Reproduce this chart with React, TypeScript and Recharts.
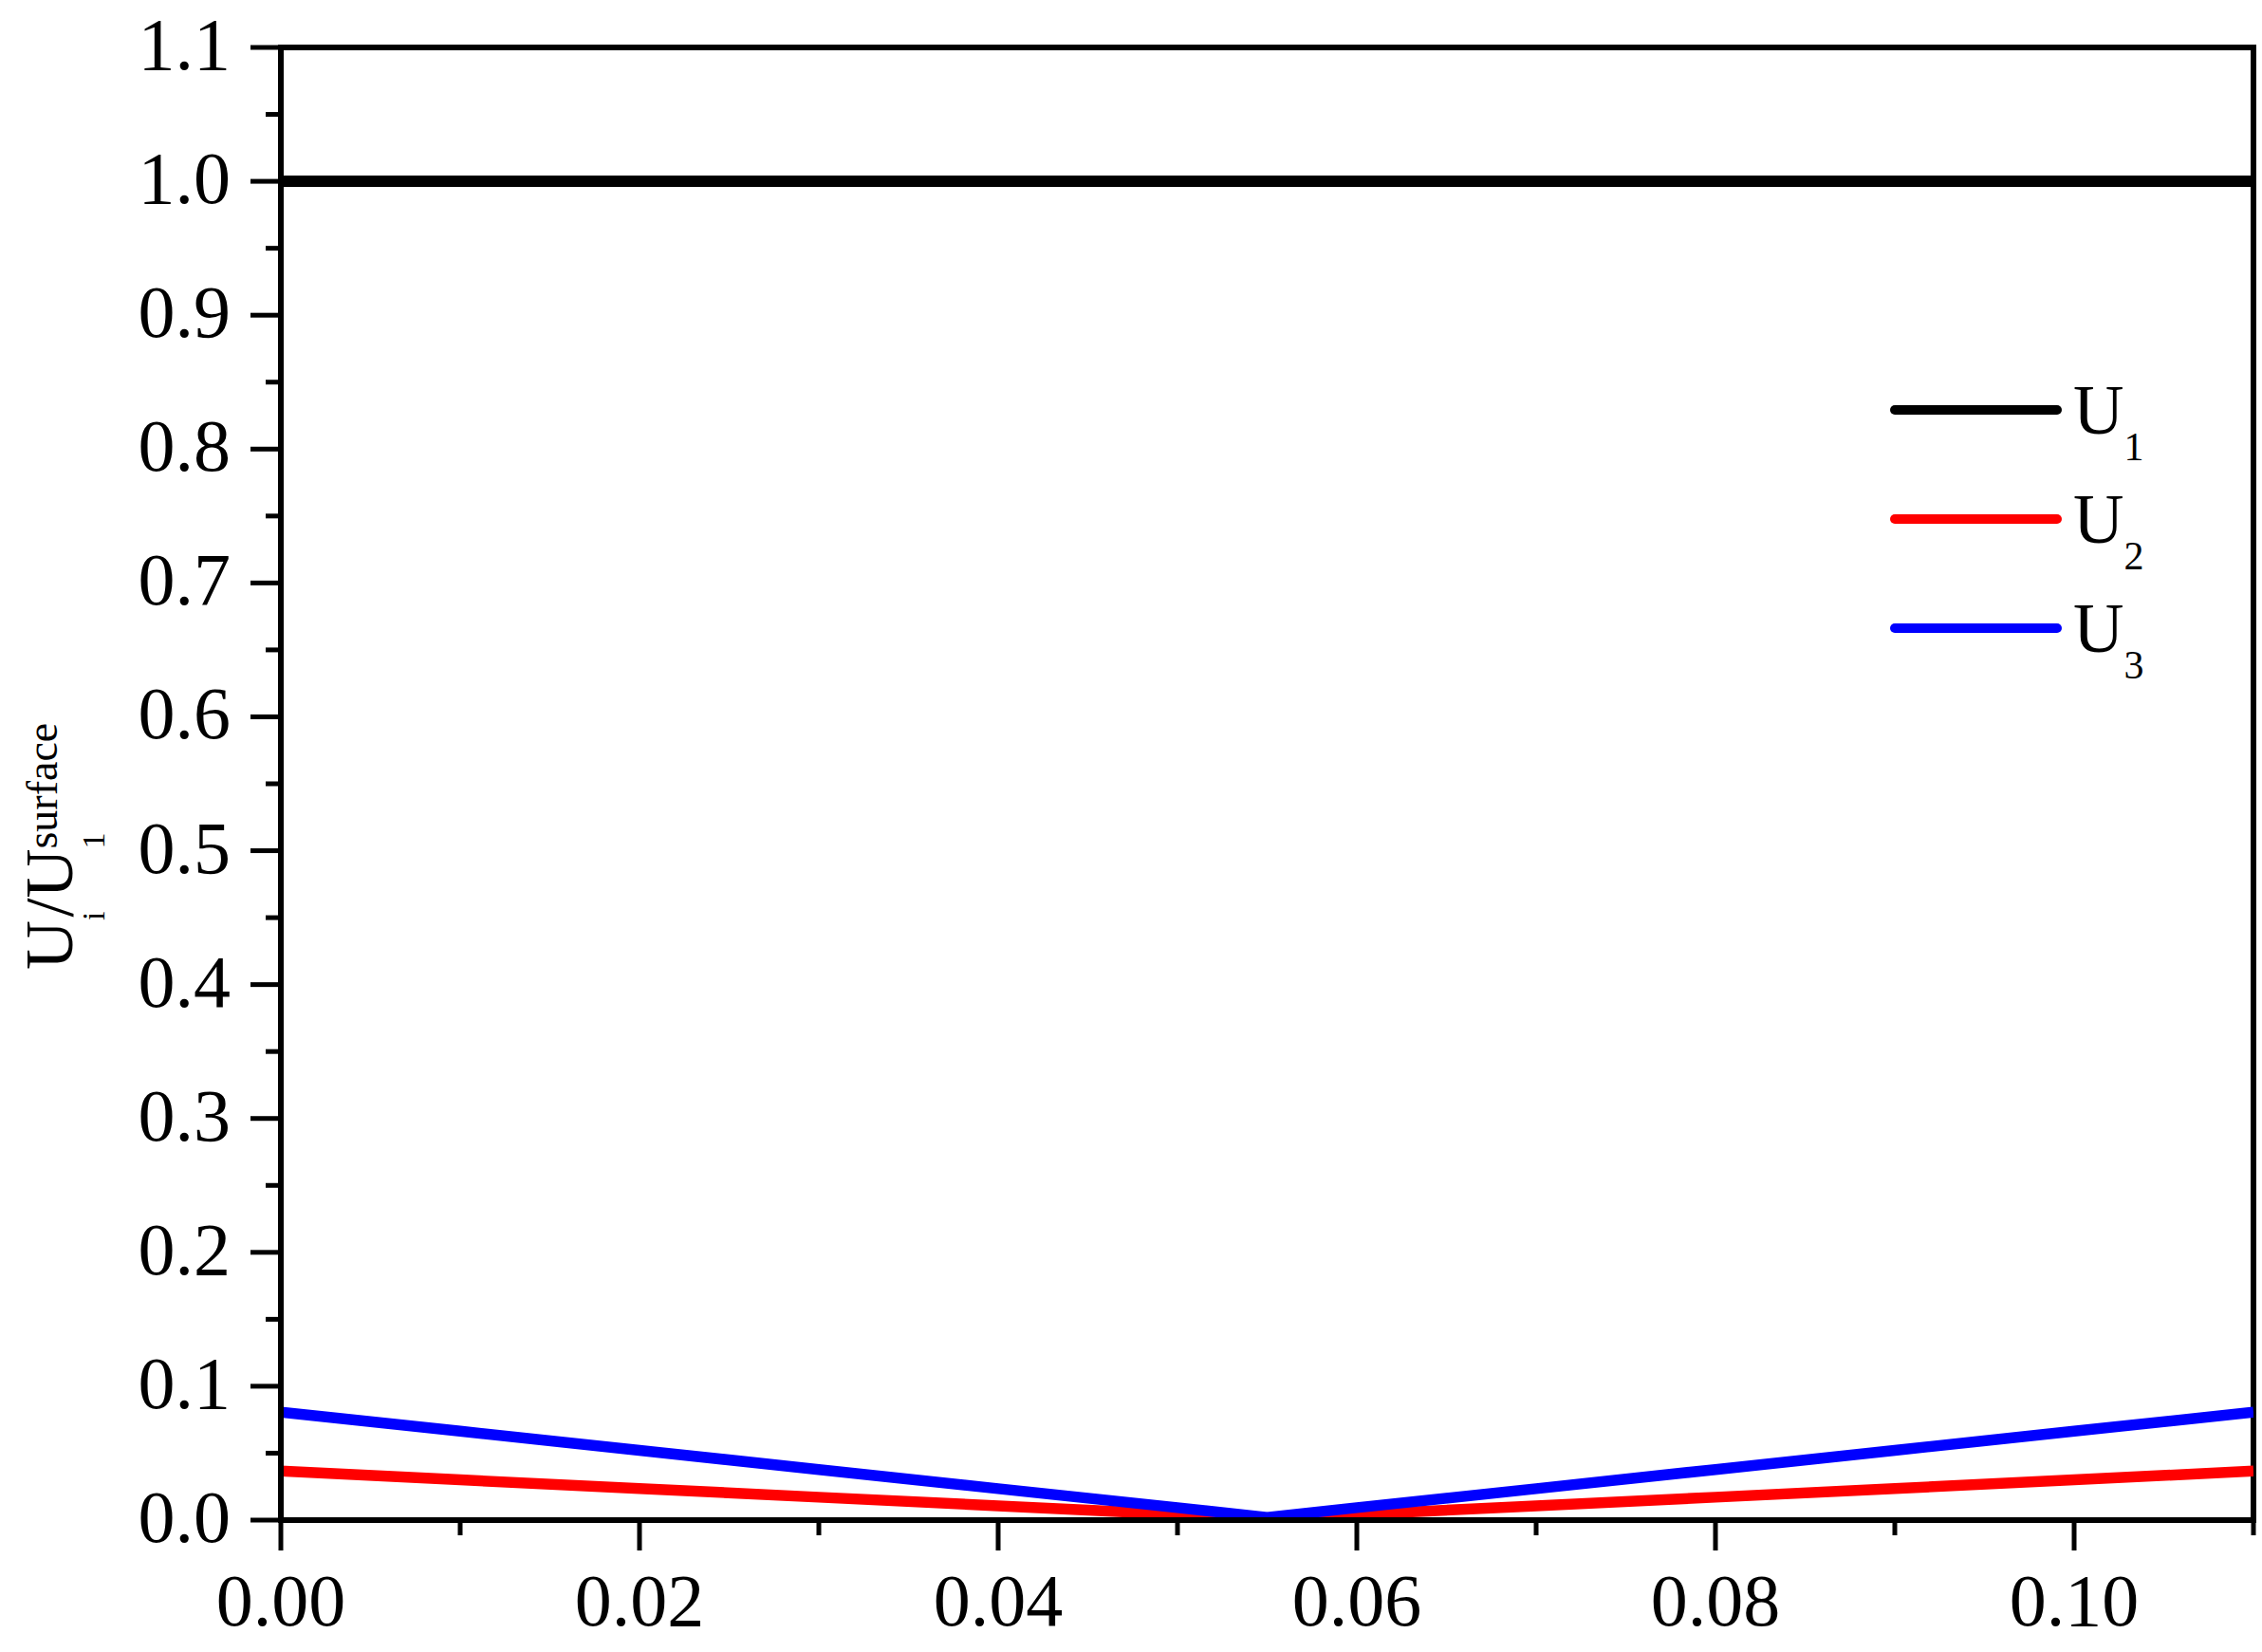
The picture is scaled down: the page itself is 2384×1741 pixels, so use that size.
import React from 'react';
import { LineChart, Line, XAxis, YAxis, ReferenceArea, Legend } from 'recharts';

// ---- data ----
const xValues = [0, 0.01, 0.02, 0.03, 0.04, 0.05, 0.055, 0.06, 0.07, 0.08, 0.09, 0.10, 0.11];
const u1Values = [1.0, 1.0, 1.0, 1.0, 1.0, 1.0, 1.0, 1.0, 1.0, 1.0, 1.0, 1.0, 1.0];
const u2Values = [0.0366, 0.0301, 0.0236, 0.0171, 0.0107, 0.0042, 0.001, 0.0042, 0.0107, 0.0171, 0.0236, 0.0301, 0.0366];
const u3Values = [0.0806, 0.0664, 0.0521, 0.0378, 0.0235, 0.0093, 0.002, 0.0093, 0.0235, 0.0378, 0.0521, 0.0664, 0.0806];

const xTicks = [0, 0.01, 0.02, 0.03, 0.04, 0.05, 0.06, 0.07, 0.08, 0.09, 0.10, 0.11];
const yTicks = [0, 0.05, 0.1, 0.15, 0.2, 0.25, 0.3, 0.35, 0.4, 0.45, 0.5, 0.55, 0.6, 0.65, 0.7, 0.75, 0.8, 0.85, 0.9, 0.95, 1.0, 1.05, 1.1];

const series = [
  { key: 'u1', name: 'U', sub: '1', color: '#000000', width: 12 },
  { key: 'u2', name: 'U', sub: '2', color: '#ff0000', width: 11.5 },
  { key: 'u3', name: 'U', sub: '3', color: '#0000ff', width: 11.5 },
];

const data = xValues.map((x, i) => ({ x, u1: u1Values[i], u2: u2Values[i], u3: u3Values[i] }));

const FONT = '"Liberation Serif", "Times New Roman", serif';

const XTick = (props: any) => {
  const { x, y, payload } = props;
  const v = payload.value as number;
  const major = Math.round(v * 100) % 2 === 0;
  return (
    <g>
      <line x1={x} y1={y} x2={x} y2={y + (major ? 32 : 16)} stroke="#000" strokeWidth={5} />
      {major && (
        <text x={x} y={y + 111} textAnchor="middle" fontFamily={FONT} fontSize={78} fill="#000">
          {v.toFixed(2)}
        </text>
      )}
    </g>
  );
};

const YTick = (props: any) => {
  const { x, y, payload } = props;
  const v = payload.value as number;
  const major = Math.round(v * 100) % 10 === 0;
  return (
    <g>
      <line x1={x - (major ? 32 : 16)} y1={y} x2={x} y2={y} stroke="#000" strokeWidth={5} />
      {major && (
        <text x={x - 53} y={y + 23} textAnchor="end" fontFamily={FONT} fontSize={78} fill="#000">
          {v.toFixed(1)}
        </text>
      )}
    </g>
  );
};

const YTitle = () => (
  <text
    x={76}
    y={1022}
    transform="rotate(-90, 76, 1022)"
    fontFamily={FONT}
    fontSize={72}
    fill="#000"
  >
    <tspan>U</tspan>
    <tspan fontSize={34} dy={34}>i</tspan>
    <tspan dy={-34} dx={-6}>/U</tspan>
    <tspan fontSize={34} dy={34}>1</tspan>
    <tspan fontSize={46} dx={-17} dy={-50}>surface</tspan>
  </text>
);

const renderLegend = () => (
  <svg width={360} height={370}>
    {series.map((s, i) => {
      const cy = 42 + i * 115;
      return (
        <g key={s.key}>
          <line x1={17} y1={cy} x2={188} y2={cy} stroke={s.color} strokeWidth={10} strokeLinecap="round" />
          <text x={205} y={cy + 25} fontFamily={FONT} fontSize={74} fill="#000">
            <tspan>{s.name}</tspan>
            <tspan fontSize={42} dy={28}>{s.sub}</tspan>
          </text>
        </g>
      );
    })}
  </svg>
);

export default function App() {
  return (
    <div style={{ position: 'absolute', left: 0, top: 0, background: '#fff' }}>
      <LineChart
        width={2384}
        height={1741}
        data={data}
        margin={{ top: 50, right: 9, bottom: 0, left: 0 }}
      >
        <XAxis
          dataKey="x"
          type="number"
          domain={[0, 0.11]}
          ticks={xTicks}
          interval={0}
          allowDataOverflow
          height={139}
          tickSize={0}
          tickMargin={0}
          tickLine={false}
          axisLine={{ stroke: '#000', strokeWidth: 6 }}
          tick={(p: any) => <XTick {...p} />}
        />
        <YAxis
          type="number"
          domain={[0, 1.1]}
          ticks={yTicks}
          interval={0}
          allowDataOverflow
          width={296}
          tickSize={0}
          tickMargin={0}
          tickLine={false}
          axisLine={{ stroke: '#000', strokeWidth: 6 }}
          tick={(p: any) => <YTick {...p} />}
          label={{ content: () => <YTitle /> }}
        />
        <ReferenceArea x1={0} x2={0.11} y1={0} y2={1.1} fill="none" stroke="#000" strokeWidth={6} fillOpacity={0} />
        {series.map((s) => (
          <Line
            key={s.key}
            dataKey={s.key}
            name={s.name + s.sub}
            stroke={s.color}
            strokeWidth={s.width}
            dot={false}
            activeDot={false}
            isAnimationActive={false}
            type="linear"
          />
        ))}
        <Legend
          layout="vertical"
          align="center"
          verticalAlign="middle"
          content={renderLegend}
          wrapperStyle={{ position: 'absolute', left: 1980, top: 390, width: 360, height: 370 }}
        />
      </LineChart>
    </div>
  );
}
